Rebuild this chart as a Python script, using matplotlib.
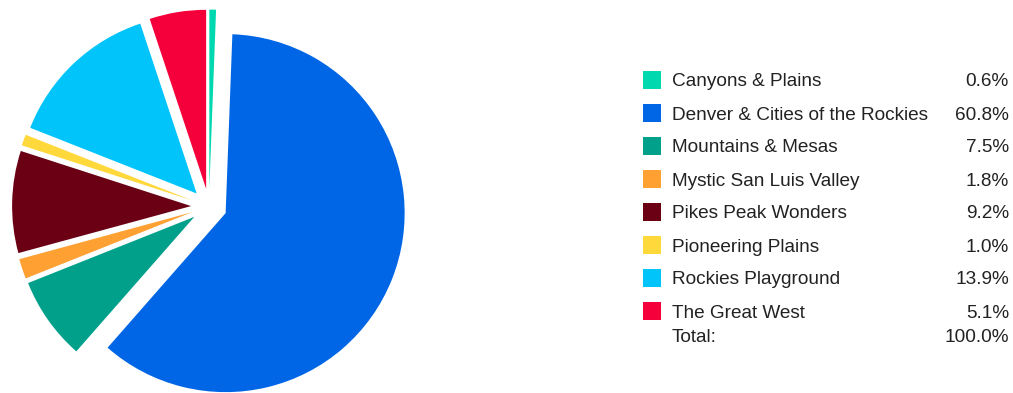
import matplotlib
matplotlib.use("Agg")
import matplotlib.pyplot as plt
from matplotlib.patches import Rectangle

plt.rcParams['font.family'] = ['Liberation Sans', 'DejaVu Sans']

regions = ["Canyons & Plains", "Denver & Cities of the Rockies", "Mountains & Mesas",
           "Mystic San Luis Valley", "Pikes Peak Wonders", "Pioneering Plains",
           "Rockies Playground", "The Great West"]
shares = [0.6, 60.8, 7.5, 1.8, 9.2, 1.0, 13.9, 5.1]
total_share = 100.0
colors = ["#00D8B0", "#0066E6", "#00A08B", "#FFA033", "#6B0014", "#FFD83C",
          "#00C4FA", "#F5003B"]
total_label = "Total:"

W, H = 1013, 393
fig = plt.figure(figsize=(W / 100, H / 100), dpi=100)

# pie axes: centre (209, 206.5) px from top-left, radius 179 px
R = 179
cx, cy = 209, H - 206.5
half = 1.2 * R
ax = fig.add_axes([(cx - half) / W, (cy - half) / H, 2 * half / W, 2 * half / H])
ax.pie(shares, colors=colors, startangle=90, counterclock=False,
       explode=[0.1] * len(shares), radius=1.0,
       wedgeprops=dict(linewidth=0))
ax.set_xlim(-1.2, 1.2)
ax.set_ylim(-1.2, 1.2)
ax.set_aspect('equal')
ax.axis('off')

# legend table
lax = fig.add_axes([0, 0, 1, 1])
lax.set_xlim(0, W)
lax.set_ylim(H, 0)
lax.axis('off')

fs = 13.7
tc = '#222222'
row0, step = 80, 33
for i, (name, val, col) in enumerate(zip(regions, shares, colors)):
    y = row0 + i * step
    lax.add_patch(Rectangle((643, y - 9), 18, 18, facecolor=col, edgecolor='none'))
    lax.text(672, y + 6.5, name, fontsize=fs, color=tc, va='baseline', ha='left')
    lax.text(1009, y + 6.5, f"{val:.1f}%", fontsize=fs, color=tc, va='baseline', ha='right')
y = 336
lax.text(672, y + 6.5, total_label, fontsize=fs, color=tc, va='baseline', ha='left')
lax.text(1009, y + 6.5, f"{total_share:.1f}%", fontsize=fs, color=tc, va='baseline', ha='right')

fig.savefig("out.png", dpi=100)
